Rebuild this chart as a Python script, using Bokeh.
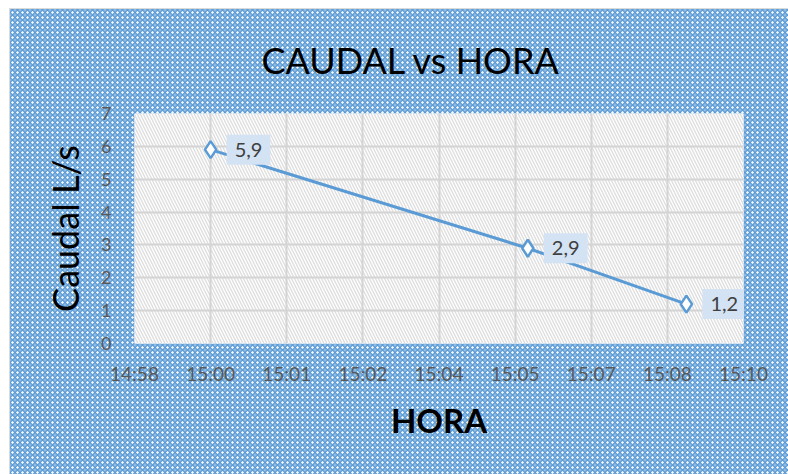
from bokeh.plotting import figure
from bokeh.models import Range1d, FixedTicker, BoxAnnotation, Label, ColumnDataSource, CustomJSTickFormatter
from bokeh.embed import file_html
from bokeh.resources import INLINE

# ---- data ----
horas = ["15:00", "15:06", "15:09"]
caudal = [5.9, 2.9, 1.2]
etiquetas = ["5,9", "2,9", "1,2"]
tick_labels = ["14:58", "15:00", "15:01", "15:02", "15:04", "15:05", "15:07", "15:08", "15:10"]
y_ticks = [0, 1, 2, 3, 4, 5, 6, 7]
axis_min_days = 0.624
major_unit_days = 0.001

def to_min(s):
    h, m = s.split(":")
    return int(h) * 60 + int(m)

x_vals = [to_min(h) for h in horas]
x_ticks = [(axis_min_days + i * major_unit_days) * 1440 for i in range(len(tick_labels))]

W, H = 788, 474
FL, FR, FT, FB = 134, 45, 113, 131

p = figure(width=W, height=H, output_backend="svg", toolbar_location=None,
           x_range=Range1d(x_ticks[0], x_ticks[-1]), y_range=Range1d(0, 7),
           min_border_left=FL, min_border_right=FR, min_border_top=FT, min_border_bottom=FB)

p.border_fill_color = None
p.background_fill_color = "white"
p.outline_line_color = None
p.styles = {
    "background-color": "#5b9bd5",
    "background-image": ("radial-gradient(circle, rgba(255,255,255,0.95) 0.9px, transparent 1.5px), "
                         "radial-gradient(circle, rgba(255,255,255,0.45) 0.9px, transparent 1.5px)"),
    "background-size": "5px 5px, 5px 5px",
    "background-position": "0 0, 2.5px 2.5px",
    "box-shadow": "inset 9px 8px 0 0 white, inset 10px 9px 0 0 #d9d9d9",
}

# plot area white with light diagonal hatch
pa = BoxAnnotation(fill_color="white", fill_alpha=1.0,
                   hatch_pattern="left_diagonal_line", hatch_color="#dedede", hatch_scale=6,
                   hatch_weight=1.4, line_color=None, level="image")
p.add_layout(pa)

# grid
p.xaxis.ticker = FixedTicker(ticks=x_ticks)
p.yaxis.ticker = FixedTicker(ticks=y_ticks)
p.xgrid.grid_line_color = "#d4d4d4"
p.ygrid.grid_line_color = "#d4d4d4"
p.xgrid.grid_line_width = 2
p.ygrid.grid_line_width = 2

# axes
for ax in (p.xaxis, p.yaxis):
    ax.axis_line_color = None
    ax.major_tick_line_color = None
    ax.minor_tick_line_color = None
    ax.major_tick_out = 0
    ax.major_tick_in = 0

p.yaxis.major_label_text_font = "Lato"
p.yaxis.major_label_text_font_size = "18px"
p.yaxis.major_label_text_color = "#595959"
p.yaxis.major_label_standoff = 23
p.yaxis.axis_label = "Caudal L/s"
p.yaxis.axis_label_text_font = "Lato"
p.yaxis.axis_label_text_font_style = "normal"
p.yaxis.axis_label_text_font_size = "36px"
p.yaxis.axis_label_text_color = "black"
p.yaxis.axis_label_standoff = 11

p.xaxis.formatter = CustomJSTickFormatter(
    args=dict(labels=tick_labels, start=x_ticks[0], step=major_unit_days * 1440),
    code="const i = Math.round((tick - start) / step); return labels[i] ?? '';")
p.xaxis.major_label_text_font = "Lato"
p.xaxis.major_label_text_font_size = "19px"
p.xaxis.major_label_text_color = "#595959"
p.xaxis.major_label_standoff = 18
p.xaxis.axis_label = "HORA"
p.xaxis.axis_label_text_font = "Lato"
p.xaxis.axis_label_text_font_style = "bold"
p.xaxis.axis_label_text_font_size = "33px"
p.xaxis.axis_label_text_color = "black"
p.xaxis.axis_label_standoff = 12

# title
p.title.text = "CAUDAL vs HORA"
p.title.text_font = "Lato"
p.title.text_font_size = "36px"
p.title.text_font_style = "normal"
p.title.text_color = "black"
p.title.align = "left"
p.title.offset = 127
p.title.standoff = 64

# series
src = ColumnDataSource(dict(x=x_vals, y=caudal, lab=etiquetas))
p.line("x", "y", source=src, line_color="#5b9bd5", line_width=3)
p.scatter("x", "y", source=src, marker="diamond", size=17, fill_color="white",
          line_color="#5b9bd5", line_width=2.5)

for xv, yv, lab in zip(x_vals, caudal, etiquetas):
    p.add_layout(Label(x=xv, y=yv, text=lab, x_offset=16, text_align="left",
                       text_baseline="middle", text_font="Lato", text_font_size="20px",
                       text_color="#404040", background_fill_color="#d3e3f4",
                       background_fill_alpha=1.0, padding=8))

open("out.html", "w").write(file_html(p, INLINE))
